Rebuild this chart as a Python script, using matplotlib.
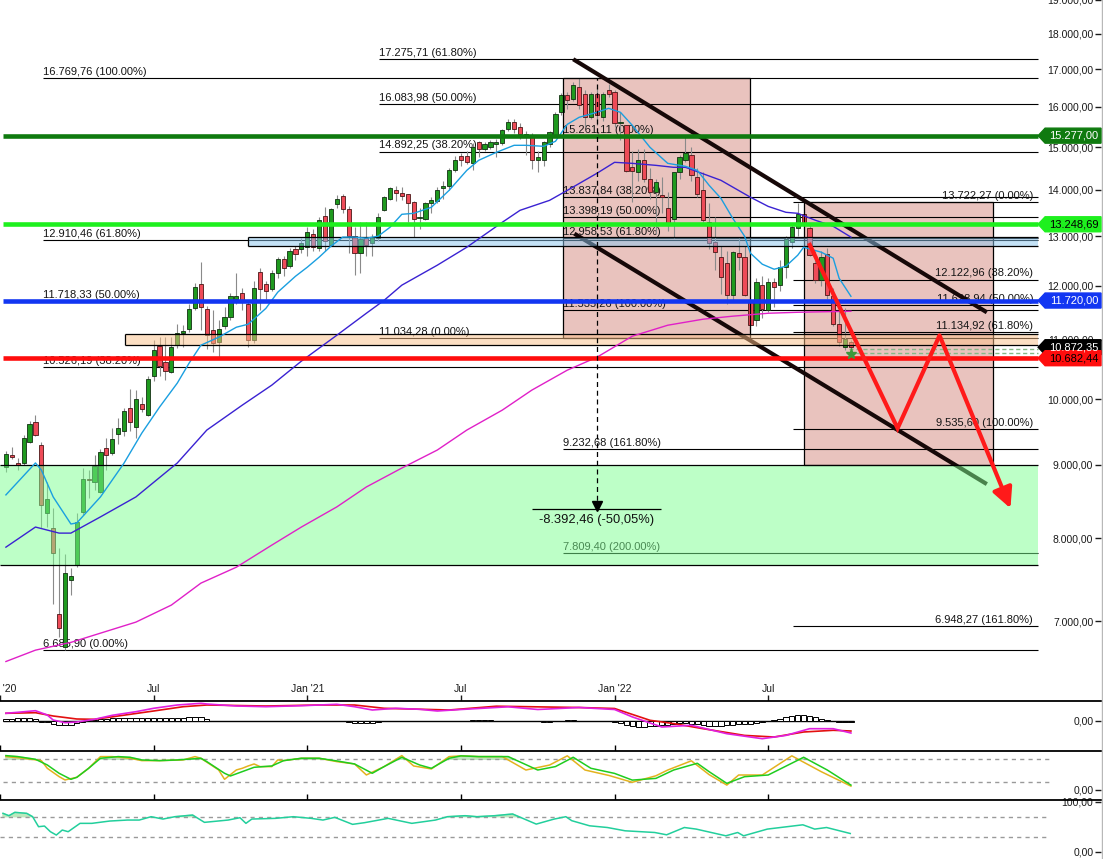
import numpy as np
import matplotlib.pyplot as plt
from matplotlib.patches import Rectangle, Polygon
from matplotlib.lines import Line2D
from matplotlib.ticker import NullLocator
from matplotlib.transforms import IdentityTransform, offset_copy

plt.rcParams['font.family'] = ['Liberation Sans', 'DejaVu Sans']

# weekly bars, bar 0 = week of 13 Jan 2020, last bar = week of 10 Oct 2022
O = [8965, 9150, 9020, 9020, 9340, 9640, 9290, 8330, 8130, 7080,
     6720, 7480, 7660, 8340, 8790, 8760, 8620, 9250, 9170, 9450,
     9500, 9860, 9560, 9920, 9750, 10380, 10890, 10620, 10450, 10910,
     11120, 11190, 11580, 12040, 11570, 11170, 10960, 11250, 11420, 11740,
     11870, 11650, 11000, 12280, 12040, 11930, 12260, 12520, 12380, 12730,
     12740, 12780, 13050, 12760, 13430, 12810, 13690, 13860, 13580, 13010,
     12660, 12950, 12850, 12950, 13560, 13790, 14000, 13940, 13900, 13740,
     13380, 13360, 13700, 13750, 14050, 14080, 14450, 14780, 14790, 14610,
     15120, 14950, 14990, 15080, 15100, 15450, 15620, 15500, 15300, 15290,
     14700, 14700, 15080, 15290, 15870, 16300, 16210, 16510, 16340, 15750,
     16340, 15750, 16430, 16390, 15590, 15530, 14530, 14410, 14690, 14260,
     13950, 13880, 13590, 13370, 14400, 14690, 14800, 14290, 13990, 13300,
     12880, 12570, 12450, 11820, 12660, 12560, 11700, 11350, 12020, 11540,
     12070, 12020, 12370, 12880, 13180, 13480, 13180, 12450, 12110, 12640,
     11800, 11280, 10880, 10970]
H = [9200, 9260, 9100, 9440, 9650, 9750, 9330, 8760, 8400, 7870,
     7800, 7630, 8330, 8950, 8930, 9140, 9230, 9400, 9550, 9700,
     9860, 10160, 10150, 10030, 10380, 11000, 11050, 11060, 11060, 11290,
     11270, 11650, 12050, 12470, 11620, 11540, 11350, 11600, 11870, 12250,
     11950, 11700, 12100, 12350, 12100, 12300, 12560, 12600, 12750, 12800,
     12950, 13200, 13150, 13400, 13620, 13600, 13880, 13900, 13650, 13200,
     13300, 13300, 13050, 13500, 13870, 14060, 14080, 14060, 13920, 13760,
     13600, 13740, 13850, 14070, 14200, 14500, 14780, 14860, 14900, 15100,
     15150, 15130, 15180, 15200, 15450, 15700, 15700, 15600, 15400, 15350,
     14900, 15150, 15400, 15870, 16370, 16400, 16650, 16770, 16450, 16400,
     16500, 16400, 16590, 16450, 15860, 15550, 14900, 14960, 14950, 14500,
     14250, 14300, 13950, 14420, 14800, 15261, 15000, 14500, 14400, 13700,
     13400, 12800, 12700, 12700, 12950, 12800, 11800, 12150, 12200, 12150,
     12150, 12500, 13000, 13250, 13700, 13722, 13250, 12700, 12700, 12760,
     11950, 11550, 11580, 11000]
L = [8900, 9080, 8920, 8990, 9320, 9420, 8130, 8140, 7200, 6820,
     6686, 7300, 7640, 8300, 8530, 8640, 8600, 8930, 9150, 9300,
     9420, 9500, 9400, 9800, 9740, 10300, 10380, 10310, 10430, 10860,
     10880, 11150, 11550, 11170, 10850, 10790, 10700, 11200, 11350, 11650,
     11550, 10870, 10950, 11550, 11750, 11900, 12150, 12200, 12350, 12500,
     12650, 12600, 12700, 12700, 12700, 12800, 13600, 13500, 12650, 12210,
     12250, 12600, 12600, 12900, 13540, 13780, 13750, 13780, 13300, 12980,
     13150, 13330, 13500, 13700, 13800, 14000, 14420, 14540, 14600, 14450,
     14750, 14900, 14960, 14750, 15050, 15400, 15350, 15200, 14800, 14480,
     14400, 14550, 15000, 15250, 15800, 15950, 16150, 15950, 15500, 15700,
     15550, 15650, 16250, 15500, 15170, 14400, 13740, 14200, 14180, 13800,
     13050, 13500, 13100, 12960, 14250, 14650, 14200, 13850, 13300, 12740,
     12300, 11850, 11650, 11700, 12300, 11800, 11040, 11250, 11400, 11500,
     11600, 11900, 12150, 12750, 13000, 13150, 12580, 12050, 12000, 11750,
     11250, 10900, 10820, 10800]
C = [9153, 9120, 9000, 9390, 9610, 9440, 8440, 8520, 7810, 6920,
     7560, 7530, 8210, 8800, 8785, 8980, 9190, 9140, 9380, 9550,
     9810, 9640, 10010, 9840, 10330, 10820, 10550, 10460, 10870, 11120,
     11160, 11560, 11980, 11600, 11090, 10950, 11200, 11420, 11800, 11800,
     11700, 11000, 11950, 11930, 11900, 12260, 12520, 12350, 12700, 12640,
     12850, 13090, 12780, 13350, 12890, 13580, 13790, 13570, 13000, 12660,
     12930, 12810, 12990, 13400, 13845, 14040, 13940, 13870, 13720, 13370,
     13400, 13710, 13770, 14000, 14080, 14450, 14700, 14700, 14650, 15000,
     14950, 15080, 15120, 15120, 15410, 15620, 15450, 15320, 15320, 14700,
     14760, 15120, 15360, 15830, 16320, 16170, 16560, 16050, 15750, 16340,
     15800, 16340, 16340, 15590, 15611, 14440, 14440, 14690, 14240, 13950,
     14180, 13840, 13270, 14410, 14750, 14850, 14340, 13900, 13330, 12860,
     12680, 12170, 11820, 12680, 12560, 11830, 11270, 12080, 11570, 12080,
     11970, 12370, 12930, 13200, 13480, 13270, 12620, 12110, 12560, 11820,
     11290, 10970, 11010, 10872]

tick_pos = [-1, 25, 51, 77, 103, 129]
tick_lab = ["Jan '20", "Jul", "Jan '21", "Jul", "Jan '22", "Jul"]
price_ticks = [7000, 8000, 9000, 10000, 11000, 12000, 13000, 14000,
               15000, 16000, 17000, 18000, 19000]

# moving averages, read at bar index
ma_fast_i = [0, 5, 6, 8, 11, 12, 16, 20, 23, 26, 29, 31, 33, 36, 39, 41, 44, 46,
             49, 51, 53, 55, 57, 59, 61, 63, 65, 67, 69, 72, 75, 78, 80, 83, 86,
             88, 91, 93, 95, 97, 100, 102, 104, 106, 109, 112, 115, 117, 119,
             121, 123, 125, 126, 128, 130, 132, 134, 135, 138, 140, 141, 143]
ma_fast_v = [8575, 9027, 8925, 8547, 8183, 8197, 8547, 9026, 9471, 9875, 10263,
             10598, 10908, 11049, 11228, 11282, 11574, 11878, 12186, 12365, 12565,
             12790, 12978, 12978, 12955, 12998, 13185, 13463, 13484, 13616, 13991,
             14449, 14683, 14873, 15042, 15042, 15018, 15139, 15558, 15734, 15861,
             15964, 15861, 15533, 14993, 14612, 14542, 14449, 14105, 13813, 13376,
             12998, 12646, 12425, 12325, 12385, 12606, 12769, 12666, 12545, 12148,
             11800]
ma_mid_i = [0, 5, 9, 11, 16, 22, 29, 34, 40, 45, 50, 56, 61, 64, 67, 73, 78, 84,
            87, 92, 95, 100, 103, 106, 110, 113, 115, 121, 126, 129, 132, 134,
            137, 140, 143]
ma_mid_v = [7884, 8143, 8064, 8064, 8277, 8547, 9026, 9517, 9906, 10230, 10632,
            11084, 11483, 11724, 12013, 12405, 12769, 13291, 13549, 13768, 13991,
            14379, 14636, 14612, 14565, 14519, 14519, 14219, 13837, 13635, 13506,
            13484, 13334, 13206, 12978]
ma_slow_i = [0, 5, 11, 16, 22, 28, 33, 39, 45, 50, 56, 61, 67, 73, 78, 84, 89,
             95, 100, 106, 112, 118, 123, 129, 134, 143]
ma_slow_v = [6560, 6681, 6765, 6866, 6989, 7183, 7441, 7634, 7910, 8143, 8411,
             8685, 8953, 9216, 9517, 9827, 10148, 10479, 10698, 11067, 11264,
             11374, 11429, 11483, 11501, 11520]

# fibonacci sets: start bar, prices, labels
fib_sets = [
    (6.24, [16769.76, 12910.46, 11718.33, 10526.19, 6685.90],
     ['100.00%', '61.80%', '50.00%', '38.20%', '0.00%'], 'left'),
    (63.1, [17275.71, 16083.98, 14892.25, 11034.28],
     ['61.80%', '50.00%', '38.20%', '0.00%'], 'left'),
    (94.2, [15261.11, 13837.84, 13398.19, 12958.53, 11535.26, 9232.68, 7809.40],
     ['0.00%', '38.20%', '50.00%', '61.80%', '100.00%', '161.80%', '200.00%'], 'left'),
    (133.2, [13722.27, 12122.96, 11628.94, 11134.92, 9535.60, 6948.27],
     ['0.00%', '38.20%', '50.00%', '61.80%', '100.00%', '161.80%'], 'right'),
]

pink_boxes = [(94.2, 125.9, 11034.28, 16769.76), (135.0, 167.1, 9000.0, 13722.27)]
green_zone = (-1.0, 7659.0, 9000.0)
orange_zone = (20.1, 10909.0, 11101.0)
blue_zone = (41.0, 12793.0, 12990.0)

levels = [(15277.00, '#0f7a0f', 'white'), (13248.69, '#1ef01e', 'black'),
          (11720.00, '#1236f2', 'white'), (10682.44, '#ff0d0d', 'black')]
last_price = 10872.35

chan_up_i, chan_up_p = [96.0, 166.0], [17275.0, 11500.0]
chan_lo_i, chan_lo_p = [96.2, 166.0], [13050.0, 8725.0]
zz_i = [135.9, 150.9, 158.0, 170.0]
zz_p = [12854.0, 9544.0, 11080.0, 8392.0]
target_bar, target_from, target_to = 100, 16769.76, 8377.30

# lower panels
macd_i = [0, 2, 5, 7, 8, 10, 12, 15, 18, 22, 25, 29, 33, 34, 39, 44, 50, 56, 59,
          62, 66, 70, 73, 77, 85, 90, 97, 103, 106, 111, 116, 122, 128, 132, 136,
          140, 143]
macd_v = [370, 420, 500, 285, 35, -100, -65, 70, 270, 450, 620, 785, 870, 835,
          735, 700, 750, 820, 700, 535, 620, 570, 485, 560, 695, 560, 660, 560,
          190, -315, -230, -650, -900, -735, -400, -400, -615]
sig_i = [0, 5, 8, 12, 15, 19, 25, 30, 34, 44, 53, 59, 64, 75, 83, 97, 103, 109,
         113, 118, 125, 130, 135, 140, 143]
sig_v = [370, 400, 235, 85, 70, 235, 485, 700, 785, 735, 785, 785, 620, 535, 725,
         660, 610, 20, -145, -400, -735, -815, -565, -480, -515]
hist = [100, 110, 120, 140, 140, 90,
        -40, -60, -150, -210, -220, -200, -120, -40,
        20, 60, 90, 110, 130, 140, 140, 150, 150, 140, 140, 150, 140, 130, 140, 140,
        150, 170, 200, 190, 90,
        0, -15, -15, 0, 0, 0, -15, -15, 0, 0, 0, 0,
        10, 10, 10, 10, 10, 10, 10,
        10, 10, 10, 10,
        -60, -110, -130, -120, -90, -40,
        0, 0, 0, 0,
        -10, -10, -10, -10, -10, -10, -10,
        0, 0, 0, 0,
        30, 30, 30, 30,
        0, 0, 0, 0, 0, 0, 0,
        -30, -60, -50, -20,
        0, 30, 30,
        0, 0, -10, -10, 0, 0,
        -60, -120, -200, -260, -290, -300, -280, -250, -220, -200, -170, -130, -120,
        -140, -180, -220, -250, -260, -250, -230, -200, -170, -160, -150, -110, -70,
        -30,
        40, 100, 180, 250, 285, 280, 230, 170, 110, 60, 0,
        -40, -70, -80]

stoch_d_i = [0, 2, 5, 7, 9, 11, 12, 14, 16, 19, 21, 23, 26, 29, 33, 34, 37, 38, 40,
             42, 45, 47, 50, 53, 56, 59, 62, 64, 67, 70, 72, 75, 77, 80, 85, 90, 93,
             96, 99, 103, 106, 110, 113, 117, 119, 122, 125, 129, 135, 139, 143]
stoch_d_v = [89.6, 87, 80, 65.2, 43.5, 27.8, 33, 56.5, 82.6, 87, 85.2, 78.3, 76.5,
             78.3, 82.6, 73.9, 43.5, 36.5, 47.8, 59.1, 62.6, 76.5, 82.6, 82.6, 75.7,
             67.8, 43.5, 60.9, 85.2, 65.2, 56.5, 82.6, 88.9, 87, 87, 52, 61, 85.2,
             56.5, 43.2, 25.7, 30.2, 52, 69.6, 47.7, 17.2, 34.6, 39, 85.2, 52, 12.7]
stoch_k_i = [0, 3, 6, 7, 9, 10, 12, 14, 16, 18, 21, 23, 26, 30, 32, 33, 36, 37, 39,
             40, 41, 42, 43, 45, 46, 47, 50, 53, 56, 59, 61, 64, 67, 69, 72, 75, 77,
             80, 84, 88, 92, 95, 98, 102, 106, 110, 112, 116, 119, 122, 124, 128,
             133, 138, 143]
stoch_k_v = [87, 82.6, 76.5, 56.5, 34.8, 26.1, 33, 56.5, 87, 87, 82.6, 76.5, 76.5,
             78.3, 87, 82.6, 52.2, 27.8, 52.2, 56.5, 62.6, 67.8, 60.9, 60.9, 78.3,
             76.5, 82.6, 82.6, 73.9, 67.8, 39.1, 60.9, 89.6, 62.6, 54.8, 87, 88.9,
             87, 87, 52, 65, 89, 52, 38, 20, 37, 52, 76, 40, 12.7, 39, 39, 89, 47.5,
             10]
rsi_i = [0, 1, 2, 4, 5, 6, 7, 8, 9, 10, 11, 13, 15, 18, 21, 23, 25, 27, 29, 32, 34,
         38, 40, 41, 42, 46, 49, 52, 54, 56, 59, 61, 65, 69, 73, 75, 78, 80, 83, 86,
         90, 93, 95, 96, 99, 102, 105, 110, 112, 115, 117, 122, 124, 125, 129, 135,
         137, 139, 143]
rsi_v = [76.7, 72, 78.7, 76.7, 70, 50, 51.3, 40, 33.3, 43.3, 40, 56.7, 56.7, 61.3,
         63.3, 63.3, 70, 65.3, 70, 73.3, 58.7, 63.3, 68, 56.7, 65.3, 66.7, 70, 66.7,
         63.3, 68.7, 54.7, 58, 66.7, 56.7, 63.3, 70, 72, 70, 72, 75.4, 55.2, 65.2,
         70, 62, 51.8, 48.4, 41.8, 38.4, 33.8, 48.4, 45.2, 31.8, 38.4, 31.8, 45.2,
         53.8, 45.2, 48.4, 36.4]


def de(v):
    s = f"{v:,.2f}"
    return s.replace(',', '#').replace('.', ',').replace('#', '.')


FW, FH = 1103.0, 859.0
X_LEFT, X_RIGHT = -0.506, 185.32
R_EDGE = 174.68
LABEL_R = 173.84

fig = plt.figure(figsize=(FW / 100, FH / 100), dpi=100)


def panel(top, bottom):
    a = fig.add_axes([0, 1 - bottom / FH, 1101 / FW, (bottom - top) / FH])
    a.set_xlim(X_LEFT, X_RIGHT)
    for s in a.spines.values():
        s.set_visible(False)
    return a


ax = panel(0, 700.7)
ax_macd = panel(700.7, 750.7)
ax_sto = panel(750.7, 800.0)
ax_rsi = panel(800.0, 859.0)

# ---------------- main price panel ----------------
ax.set_yscale('log')
ax.set_ylim(6159.5, 18992)

for x0, x1, p0, p1 in pink_boxes:
    ax.add_patch(Rectangle((x0, p0), x1 - x0, p1 - p0, facecolor='#e9c3be',
                           edgecolor='none', zorder=0.5))
    ax.add_patch(Rectangle((x0, p0), x1 - x0, p1 - p0, fill=False,
                           edgecolor='black', lw=0.9, zorder=2.5))

for x0, prices, pcts, ha in fib_sets:
    for p, t in zip(prices, pcts):
        ax.hlines(p, x0, R_EDGE, color='black', lw=0.8, zorder=1.5)
        lx = x0 if ha == 'left' else LABEL_R
        ax.annotate(f"{de(p)} ({t})", (lx, p), xytext=(0, 0.8),
                    textcoords='offset points', ha=ha, va='bottom',
                    fontsize=8, color='#151515', zorder=1.6)

# candles
idx = np.arange(len(C))
o, h, l, c = (np.array(v, dtype=float) for v in (O, H, L, C))
up = c >= o
lo = np.minimum(o, c)
hi = np.maximum(np.maximum(o, c), lo * 1.0018)
ax.vlines(idx, l, h, color='#8a8a8a', lw=0.8, zorder=1.9)
ax.bar(idx[up], (hi - lo)[up], bottom=lo[up], width=0.72, color='#1f9a1f',
       edgecolor='#123012', lw=0.6, zorder=2)
ax.bar(idx[~up], (hi - lo)[~up], bottom=lo[~up], width=0.72, color='#ee4b58',
       edgecolor='#4a1616', lw=0.6, zorder=2)

# trend channel (sits under the translucent zones)
ax.plot(chan_up_i, chan_up_p, color='#160808', lw=3.0, solid_capstyle='butt', zorder=3.5)
ax.plot(chan_lo_i, chan_lo_p, color='#160808', lw=3.0, solid_capstyle='butt', zorder=3.5)

# translucent zones
for (x0, p0, p1), fc, left_edge in [(green_zone, '#7dff91', False),
                                    (orange_zone, '#fbc189', True),
                                    (blue_zone, '#8bc7ef', True)]:
    ax.add_patch(Rectangle((x0, p0), R_EDGE - x0, p1 - p0, facecolor=fc,
                           edgecolor='none', alpha=0.5, zorder=4))
    ax.hlines([p0, p1], x0, R_EDGE, color='black', lw=0.9, zorder=4.1)
    if left_edge:
        ax.vlines(x0, p0, p1, color='black', lw=0.9, zorder=4.1)

# moving averages above the zones
ax.plot(ma_slow_i, ma_slow_v, color='#e020c8', lw=1.0, zorder=4.5)
ax.plot(ma_mid_i, ma_mid_v, color='#3a22d2', lw=1.0, zorder=4.5)
ax.plot(ma_fast_i, ma_fast_v, color='#1a9fe0', lw=1.0, zorder=4.5)

# key horizontal levels
for p, col, _ in levels:
    ax.hlines(p, X_LEFT, R_EDGE, color=col, lw=3.3, zorder=5)

# projected move from the top
ax.vlines(target_bar, target_to, target_from, color='black', lw=0.9,
          linestyles=(0, (4, 3)), zorder=5)
ax.plot(target_bar, target_to, marker='v', color='black', ms=6.5, zorder=5,
        transform=offset_copy(ax.transData, fig=fig, y=3.5, units='dots'))
ax.hlines(target_to, 89.1, 110.9, color='black', lw=0.9, zorder=5)
ax.annotate('-8.392,46 (-50,05%)', (target_bar, target_to), xytext=(0, -3.5),
            textcoords='offset points', ha='center', va='top', fontsize=9.3,
            color='#111111', zorder=5)

# current price markers
ax.hlines([10850, 10780], 142.6, R_EDGE, colors='#86b886', lw=1.0,
          linestyles=(0, (3, 2)), zorder=5)
ax.plot(143, 10749, marker='*', color='#3c9a3c', ms=8, zorder=6)

# red scenario path
ax.plot(zz_i[:3], zz_p[:3], color='#ff1a1a', lw=3.0, zorder=6,
        solid_joinstyle='miter', solid_capstyle='butt')
ax.annotate('', xy=(zz_i[3], zz_p[3]), xytext=(zz_i[2], zz_p[2]),
            arrowprops=dict(arrowstyle='-|>,head_length=1.1,head_width=0.55',
                            color='#ff1a1a', lw=3.0, mutation_scale=11,
                            shrinkA=0, shrinkB=0), zorder=6)

# axes ticks
ax.yaxis.tick_right()
ax.set_yticks(price_ticks)
ax.set_yticklabels([de(v) for v in price_ticks])
ax.yaxis.set_minor_locator(NullLocator())
ax.tick_params(axis='y', which='both', direction='in', length=4, width=1,
               pad=-5.5, labelsize=7.5, colors='#1a1a1a')
plt.setp(ax.get_yticklabels(), ha='right')
ax.set_xticks(tick_pos)
ax.set_xticklabels(tick_lab)
ax.tick_params(axis='x', direction='in', length=4, width=1, pad=-12,
               labelsize=7.5, colors='#1a1a1a')

# ---------------- MACD ----------------
ax_macd.set_ylim(-1500, 1000)
ax_macd.hlines(0, X_LEFT, 143.5, color='black', lw=1.0, zorder=2)
hv = np.array(hist, dtype=float)
nz = hv != 0
ax_macd.bar(idx[nz], hv[nz], width=0.9, color='white', edgecolor='black',
            lw=0.7, zorder=2.5)
ax_macd.plot(sig_i, sig_v, color='#e31010', lw=1.2, zorder=3)
ax_macd.plot(macd_i, macd_v, color='#e020e0', lw=1.2, zorder=3)

# ---------------- Stochastic ----------------
ax_sto.set_ylim(-26.2, 102.4)
ax_sto.hlines([80, 20], X_LEFT, R_EDGE + 2, color='#9a9a9a', lw=1.0,
              linestyles=(0, (3, 3)))
sdi = np.array(stoch_d_i, dtype=float)
sdv = np.array(stoch_d_v, dtype=float)
ax_sto.fill_between(sdi, sdv, 80, where=sdv > 80, interpolate=True,
                    color='#bde8bd', zorder=1)
ax_sto.plot(stoch_k_i, stoch_k_v, color='#e3b21e', lw=1.1, zorder=3)
ax_sto.plot(stoch_d_i, stoch_d_v, color='#1fcc1f', lw=1.1, zorder=3)

# ---------------- RSI ----------------
ax_rsi.set_ylim(-14.6, 103.4)
ax_rsi.hlines([70, 30], X_LEFT, R_EDGE + 2, color='#9a9a9a', lw=1.0,
              linestyles=(0, (3, 3)))
ri = np.array(rsi_i, dtype=float)
rv = np.array(rsi_v, dtype=float)
ax_rsi.fill_between(ri, rv, 70, where=rv > 70, interpolate=True,
                    color='#bde8bd', zorder=1)
ax_rsi.plot(rsi_i, rsi_v, color='#22cf9c', lw=1.1, zorder=3)

for a, yt, yl in [(ax_macd, [0], ['0,00']), (ax_sto, [0], ['0,00']),
                  (ax_rsi, [0, 100], ['0,00', '100,00'])]:
    a.spines['top'].set_visible(True)
    a.spines['top'].set_linewidth(1.3)
    a.yaxis.tick_right()
    a.set_yticks(yt)
    a.set_yticklabels(yl)
    a.tick_params(axis='y', direction='in', length=4, width=1, pad=-5.5,
                  labelsize=7.5, colors='#1a1a1a')
    plt.setp(a.get_yticklabels(), ha='right')
for a in (ax_macd, ax_sto):
    a.set_xticks(tick_pos)
    a.tick_params(axis='x', direction='in', length=4, width=1, labelbottom=False)
ax_rsi.set_xticks([])

# ---------------- price tags on the scale ----------------
def price_tag(price, text, face, tcol):
    xt, yc = ax.transData.transform((R_EDGE, price))
    xr, hh = 1101.0, 7.5
    poly = Polygon([(xt, yc), (xt + 7, yc + hh), (xr, yc + hh), (xr, yc - hh),
                    (xt + 7, yc - hh)], closed=True, facecolor=face,
                   edgecolor=face, transform=IdentityTransform(), zorder=20)
    fig.add_artist(poly)
    fig.text((xt + 7 + xr) / 2 + 1, yc, text, transform=IdentityTransform(),
             ha='center', va='center', color=tcol, fontsize=8, zorder=21)


for p, col, tc in levels[:3]:
    price_tag(p, de(p), col, tc)
price_tag(last_price, de(last_price), '#000000', 'white')
price_tag(levels[3][0], de(levels[3][0]), levels[3][1], levels[3][2])

fig.add_artist(Line2D([1101.5 / FW] * 2, [0, 1], color='#b8b8b8', lw=1.0,
                      transform=fig.transFigure))

fig.savefig('out.png', dpi=100)
